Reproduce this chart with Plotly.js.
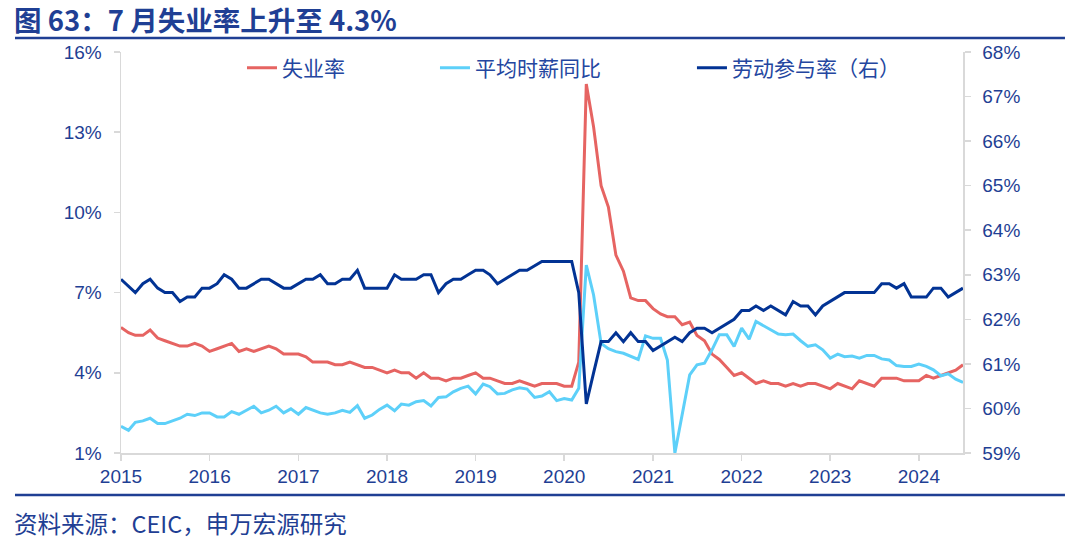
<!DOCTYPE html>
<html><head><meta charset="utf-8">
<script src="https://cdn.plot.ly/plotly-3.0.1.min.js"></script>
<style>html,body{margin:0;padding:0;background:#fff}#chart{width:1080px;height:545px}</style>
</head><body><div id="chart"></div>
<script>
// Monthly data, Jan 2015 – Jul 2024
const startYear = 2015;
const monthCount = 115;
const months = [];
for (let i = 0; i < monthCount; i++) {
  const y = startYear + Math.floor(i / 12);
  const m = (i % 12) + 1;
  months.push(y + '-' + String(m).padStart(2, '0') + '-01');
}

// 失业率 (%)
const unemployment = [
  5.7, 5.5, 5.4, 5.4, 5.6, 5.3, 5.2, 5.1, 5.0, 5.0, 5.1, 5.0,
  4.8, 4.9, 5.0, 5.1, 4.8, 4.9, 4.8, 4.9, 5.0, 4.9, 4.7, 4.7,
  4.7, 4.6, 4.4, 4.4, 4.4, 4.3, 4.3, 4.4, 4.3, 4.2, 4.2, 4.1,
  4.0, 4.1, 4.0, 4.0, 3.8, 4.0, 3.8, 3.8, 3.7, 3.8, 3.8, 3.9,
  4.0, 3.8, 3.8, 3.7, 3.6, 3.6, 3.7, 3.6, 3.5, 3.6, 3.6, 3.6,
  3.5, 3.5, 4.4, 14.8, 13.2, 11.0, 10.2, 8.4, 7.8, 6.8, 6.7, 6.7,
  6.4, 6.2, 6.1, 6.1, 5.8, 5.9, 5.4, 5.2, 4.7, 4.5, 4.2, 3.9,
  4.0, 3.8, 3.6, 3.7, 3.6, 3.6, 3.5, 3.6, 3.5, 3.6, 3.6, 3.5,
  3.4, 3.6, 3.5, 3.4, 3.7, 3.6, 3.5, 3.8, 3.8, 3.8, 3.7, 3.7,
  3.7, 3.9, 3.8, 3.9, 4.0, 4.1, 4.3
];

// 平均时薪同比 (%)
const wageYoY = [
  2.0, 1.85, 2.15, 2.2, 2.3, 2.1, 2.1, 2.2, 2.3, 2.45, 2.4, 2.5,
  2.5, 2.35, 2.35, 2.55, 2.45, 2.6, 2.75, 2.5, 2.6, 2.75, 2.5, 2.65,
  2.45, 2.7, 2.6, 2.5, 2.45, 2.5, 2.6, 2.52, 2.77, 2.3, 2.42, 2.63,
  2.79, 2.58, 2.83, 2.79, 2.92, 2.96, 2.76, 3.08, 3.1, 3.29, 3.42, 3.5,
  3.21, 3.58, 3.48, 3.21, 3.23, 3.36, 3.44, 3.39, 3.08, 3.13, 3.29, 2.96,
  3.04, 2.98, 3.42, 8.03, 6.91, 5.1, 4.9, 4.79, 4.73, 4.63, 4.5, 5.38,
  5.29, 5.29, 4.48, 1.0, 2.4, 3.92, 4.3, 4.36, 4.86, 5.42, 5.42, 4.99,
  5.67, 5.26, 5.92, 5.76, 5.6, 5.45, 5.42, 5.45, 5.2, 4.99, 5.05, 4.86,
  4.55, 4.7, 4.6, 4.63, 4.55, 4.65, 4.65, 4.52, 4.48, 4.27, 4.24, 4.24,
  4.33, 4.24, 4.11, 3.89, 3.96, 3.76, 3.64
];

// 劳动参与率 (%, 右轴)
const participation = [
  62.9, 62.75, 62.6, 62.8, 62.9, 62.7, 62.6, 62.6, 62.4, 62.5, 62.5, 62.7,
  62.7, 62.8, 63.0, 62.9, 62.7, 62.7, 62.8, 62.9, 62.9, 62.8, 62.7, 62.7,
  62.8, 62.9, 62.9, 63.0, 62.8, 62.8, 62.9, 62.9, 63.1, 62.7, 62.7, 62.7,
  62.7, 63.0, 62.9, 62.9, 62.9, 63.0, 63.0, 62.6, 62.8, 62.9, 62.9, 63.0,
  63.1, 63.1, 63.0, 62.8, 62.9, 63.0, 63.1, 63.1, 63.2, 63.3, 63.3, 63.3,
  63.3, 63.3, 62.6, 60.1, 60.8, 61.5, 61.5, 61.7, 61.5, 61.7, 61.5, 61.5,
  61.3, 61.4, 61.5, 61.6, 61.5, 61.7, 61.8, 61.8, 61.7, 61.8, 61.9, 62.0,
  62.2, 62.2, 62.3, 62.2, 62.3, 62.2, 62.1, 62.4, 62.3, 62.3, 62.1, 62.3,
  62.4, 62.5, 62.6, 62.6, 62.6, 62.6, 62.6, 62.8, 62.8, 62.7, 62.8, 62.5,
  62.5, 62.5, 62.7, 62.7, 62.5, 62.6, 62.7
];

const seriesNames = ['失业率', '平均时薪同比', '劳动参与率（右）'];
const titleText = '图 63：7 月失业率上升至 4.3%';
const sourceText = '资料来源：CEIC，申万宏源研究';

const BLUE = '#1f3f94';
const AXIS = '#d9d9d9';
const CJK = '"Noto Sans CJK SC", "Microsoft YaHei", sans-serif';
const NUM = 'Arial, "Liberation Sans", "Noto Sans CJK SC", sans-serif';

const traces = [
  { x: months, y: unemployment, name: seriesNames[0], type: 'scatter', mode: 'lines',
    line: { color: '#e66462', width: 3 }, legend: 'legend' },
  { x: months, y: wageYoY, name: seriesNames[1], type: 'scatter', mode: 'lines',
    line: { color: '#5dd0f9', width: 3 }, legend: 'legend2' },
  { x: months, y: participation, name: seriesNames[2], type: 'scatter', mode: 'lines',
    line: { color: '#023394', width: 3 }, yaxis: 'y2', legend: 'legend3' }
];

const legendBase = { orientation: 'h', y: 0.96, yanchor: 'middle', xanchor: 'left',
  bgcolor: 'rgba(0,0,0,0)', font: { family: CJK, size: 21, color: '#2446a0' } };

const layout = {
  width: 1080, height: 545,
  margin: { l: 121, r: 117, t: 52, b: 92 },
  paper_bgcolor: '#fff', plot_bgcolor: '#fff',
  showlegend: true,
  title: { text: titleText, x: 14 / 1080, xref: 'container', xanchor: 'left',
    y: 1 - 21 / 545, yref: 'container', yanchor: 'middle',
    font: { family: CJK, size: 27.5, color: BLUE, weight: 'bold' } },
  xaxis: {
    type: 'date', range: ['2015-01-01', '2024-07-01'],
    tick0: '2015-01-01', dtick: 'M12', tickformat: '%Y',
    showgrid: false, zeroline: false,
    showline: true, linecolor: AXIS, linewidth: 1.5,
    ticks: 'outside', ticklen: 6, tickcolor: AXIS, tickwidth: 1.5,
    tickfont: { family: NUM, size: 19, color: BLUE }
  },
  yaxis: {
    range: [1, 16], tick0: 1, dtick: 3, ticksuffix: '%',
    showgrid: false, zeroline: false,
    showline: true, linecolor: AXIS, linewidth: 1.5,
    ticks: 'outside', ticklen: 6, tickcolor: AXIS, tickwidth: 1.5,
    ticklabelstandoff: 8,
    tickfont: { family: NUM, size: 19, color: BLUE }
  },
  yaxis2: {
    overlaying: 'y', side: 'right',
    range: [59, 68], tick0: 59, dtick: 1, ticksuffix: '%',
    showgrid: false, zeroline: false,
    showline: true, linecolor: AXIS, linewidth: 1.5,
    ticks: 'outside', ticklen: 6, tickcolor: AXIS, tickwidth: 1.5,
    ticklabelstandoff: 8,
    tickfont: { family: NUM, size: 19, color: BLUE }
  },
  legend: Object.assign({}, legendBase, { x: 0.1437 }),
  legend2: Object.assign({}, legendBase, { x: 0.3729 }),
  legend3: Object.assign({}, legendBase, { x: 0.6781 }),
  shapes: [
    { type: 'line', xref: 'paper', yref: 'paper', x0: -0.1259, x1: 1.1211, y0: 1.0349, y1: 1.0349,
      line: { color: BLUE, width: 2.5 } },
    { type: 'line', xref: 'paper', yref: 'paper', x0: -0.1259, x1: 1.1211, y0: -0.1047, y1: -0.1047,
      line: { color: BLUE, width: 2.5 } }
  ],
  annotations: [
    { text: sourceText, xref: 'paper', yref: 'paper', x: -0.1295, y: -0.1746,
      xanchor: 'left', yanchor: 'middle', showarrow: false,
      font: { family: CJK, size: 23.5, color: BLUE } }
  ]
};

Plotly.newPlot('chart', traces, layout, { displayModeBar: false, staticPlot: true });
</script></body></html>
